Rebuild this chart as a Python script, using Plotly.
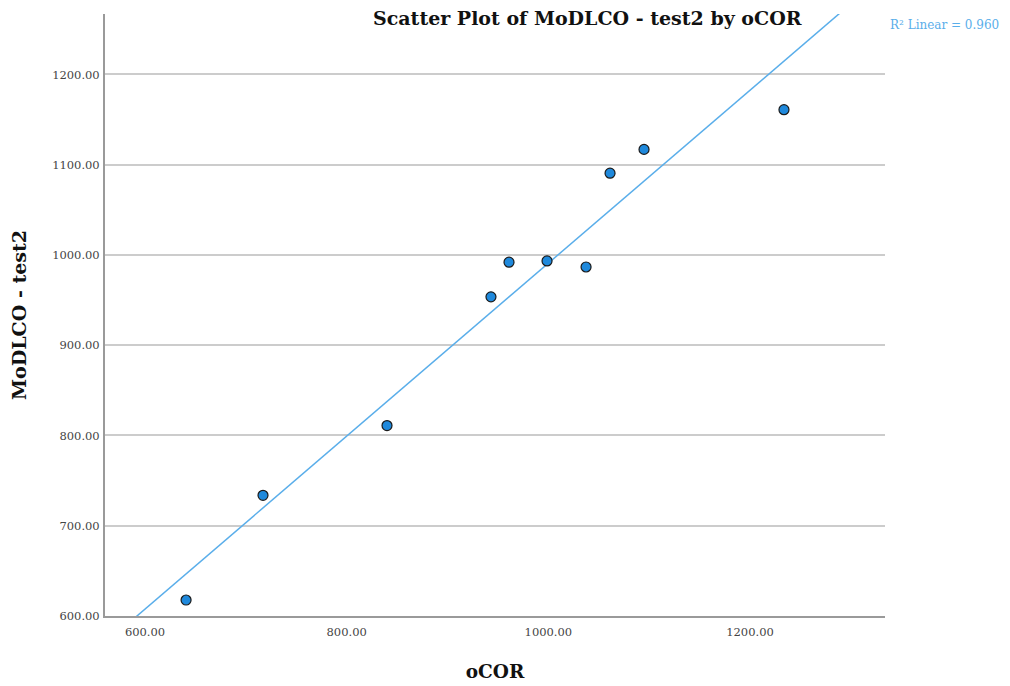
import numpy as np
import plotly.graph_objects as go

ocor = [640.7, 717.0, 840.0, 943.1, 961.0, 998.7, 1037.4, 1061.2, 1094.9, 1233.7]
modlco = [617.7, 733.7, 811.0, 953.6, 992.0, 993.4, 986.7, 1090.6, 1117.0, 1161.0]
x_ticks = [600, 800, 1000, 1200]
y_ticks = [600, 700, 800, 900, 1000, 1100, 1200]
x_range = [560.3, 1333.9]
y_range = [600, 1267]

slope, intercept = np.polyfit(ocor, modlco, 1)
pred = np.polyval([slope, intercept], ocor)
r2 = 1 - np.sum((np.array(modlco) - pred) ** 2) / np.sum((np.array(modlco) - np.mean(modlco)) ** 2)
fit_x = np.array(x_range, dtype=float)
fit_y = slope * fit_x + intercept

serif = "DejaVu Serif, Liberation Serif, serif"
fig = go.Figure()
fig.add_trace(go.Scatter(x=fit_x, y=fit_y, mode="lines",
                         line=dict(color="#5aaeea", width=1.5), showlegend=False, hoverinfo="skip"))
fig.add_trace(go.Scatter(x=ocor, y=modlco, mode="markers",
                         marker=dict(size=10, color="#1f89dc", line=dict(color="#1a1a1a", width=1.2)),
                         showlegend=False))

fig.update_layout(
    width=1010, height=686,
    margin=dict(l=97, r=133, t=6, b=78),
    plot_bgcolor="white", paper_bgcolor="white",
    font=dict(family=serif, color="#333333", size=12),
    xaxis=dict(range=x_range, tickvals=x_ticks, ticktext=[f"{v:.2f}" for v in x_ticks],
               showgrid=False, zeroline=False, showline=True, linecolor="#9a9a9a", linewidth=2,
               ticks="", ticklen=0, automargin=False, ticklabelstandoff=4,
               tickfont=dict(size=11.5, color="#444444", family=serif),
               title=dict(text="<b>oCOR</b>", font=dict(size=18.5, color="#111111", family=serif), standoff=27)),
    yaxis=dict(range=y_range, tickvals=y_ticks, ticktext=[f"{v:.2f}" for v in y_ticks],
               showgrid=True, gridcolor="#cccccc", gridwidth=1.5, zeroline=False,
               showline=True, linecolor="#9a9a9a", linewidth=2, automargin=False,
               ticks="outside", ticklen=1, tickcolor="white",
               tickfont=dict(size=11.5, color="#444444", family=serif),
               title=dict(text="<b>MoDLCO - test2</b>", font=dict(size=19, color="#111111", family=serif), standoff=20)),
    annotations=[
        dict(text="<b>Scatter Plot of MoDLCO - test2 by oCOR</b>", xref="paper", yref="paper",
             x=0.618, y=0.993, xanchor="center", yanchor="middle", showarrow=False,
             font=dict(size=19, color="#111111", family=serif)),
        dict(text=f"R² Linear = {r2:.3f}", xref="paper", yref="paper",
             x=1.004, y=0.982, xanchor="left", yanchor="middle", showarrow=False,
             font=dict(size=12, color="#5aaeea", family=serif)),
    ],
)
fig.write_html("out.html")
